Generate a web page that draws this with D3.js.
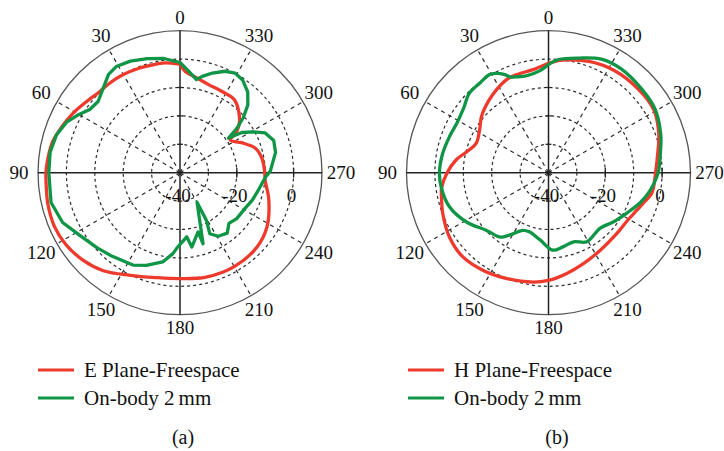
<!DOCTYPE html>
<html lang="en">
  <head>
    <meta charset="UTF-8" />
    <title>Radiation patterns</title>
    <script src="https://d3js.org/d3.v7.min.js" charset="utf-8"></script>
    <style>
      body { margin: 0; background: #fff; }
      text { font-family: "Liberation Serif", "DejaVu Serif", serif; fill: #111; }
    </style>
  </head>
  <body>
    <div id="chart"></div>
    <script>
      // angles in degrees (counter-clockwise from top), gain in dB
      const eFreeAng = [0, 9, 16, 21, 30, 38, 45, 53, 61, 68, 76, 84, 90, 97, 103, 113, 122, 132, 142, 154, 167, 180, 194, 210, 226, 238, 253, 265, 271, 280, 288, 296, 303, 306, 311, 323, 333, 342, 350, 357, 360];
      const eFreeDb = [-1.8, -0.9, -0.8, -0.5, -0.1, 0.1, 0.2, 1.4, 3.1, 4.5, 6.1, 6.8, 7.2, 7.4, 7.8, 8.1, 7.5, 6.0, 3.8, 0.2, -2.1, -2.7, -2.1, -1.8, -2.3, -3.9, -7.3, -9.9, -10.2, -10.7, -12.1, -15.9, -18.9, -15.3, -12.2, -8.0, -7.8, -7.4, -6.1, -4.3, -1.8];

      const eBodyAng = [0, 8, 16, 24, 31, 36, 42, 49, 55, 61, 66, 73, 81, 90, 103, 113, 122, 132, 141, 153, 160, 169, 175, 178, 186, 189, 197, 198, 210, 209, 206, 211, 218, 224, 231, 241, 249, 257, 267, 271, 282, 289, 295, 299, 303, 305.5, 308, 311, 315, 320, 326, 331, 336, 342, 347, 350, 355, 360];
      const eBodyDb = [-1.2, 0.6, 1.8, 3.0, 3.6, 2.8, 0.3, -1.8, -1.2, 1.5, 3.7, 5.5, 6.3, 6.2, 6.6, 4.9, 1.6, -0.6, -2.1, -3.5, -5.3, -8.0, -11.4, -13.7, -17.3, -13.5, -18.2, -13.7, -28, -20.8, -16.1, -13.9, -13.0, -15.2, -14.3, -13.9, -12.8, -11.8, -9.9, -8.2, -5.6, -5.1, -6.9, -10.3, -14.0, -19.0, -14.6, -10.5, -6.2, -2.9, -0.6, 0.1, -0.9, -3.1, -5.2, -6.7, -4.2, -1.2];

      const hFreeAng = [0, 8.5, 18, 24, 32, 40, 50, 58, 68, 76, 82, 90, 98, 104, 111, 123, 134, 146, 158, 172, 180, 190, 201, 214, 228, 239, 247, 252, 259, 270, 278, 290, 301, 313, 327, 340, 353, 360];
      const hFreeDb = [-1.5, -3.3, -3.7, -4.0, -5.5, -7.1, -9.2, -11.4, -12.5, -10.1, -7.2, -4.3, -2.0, -1.2, -0.1, 1.6, 2.3, 1.4, 0.1, -1.1, -2.1, -3.9, -5.7, -7.2, -7.8, -7.5, -6.2, -5.0, -2.9, -2.3, -1.3, 1.3, 3.2, 3.2, 2.8, 1.7, -0.1, -1.5];

      const hBodyAng = [0, 5, 13, 18, 22, 24, 28, 31, 37, 45, 52, 61, 70, 80, 90, 98, 109, 121, 133, 143, 148, 156, 162, 173, 183, 191, 200, 209, 223, 233, 243, 252, 260, 268, 272, 280, 289, 301, 312, 325, 335, 345, 355, 360];
      const hBodyDb = [-1.9, -4.0, -5.0, -4.5, -3.6, -2.2, -0.4, 0.3, -0.2, -0.5, -2.3, -3.3, -2.9, -2.1, -1.6, -1.9, -3.1, -6.3, -10.2, -11.6, -14.1, -17.8, -18.1, -16.1, -12.7, -13.4, -14.1, -12.2, -13.3, -11.3, -8.9, -6.0, -3.7, -1.8, -1.1, 0.0, 1.8, 3.7, 4.1, 4.6, 4.1, 1.8, 0.0, -1.9];

      const ringLevels = [-30, -20, -10, 0];
      const radialLabels = ["-40", "-20", "0"];
      const radialLabelLevels = [-40, -20, 0];
      const angleTicks = [0, 30, 60, 90, 120, 150, 180, 210, 240, 270, 300, 330];

      const panelA = ["E Plane-Freespace", "On-body 2\u2009mm", "(a)"];
      const panelB = ["H Plane-Freespace", "On-body 2\u2009mm", "(b)"];

      const width = 724;
      const height = 451;
      const radius = 142;
      const red = "#ee3a2c";
      const green = "#0f9546";

      const r = d3.scaleLinear().domain([-40, 10]).range([0, radius]);
      const rad = d => (-d * Math.PI) / 180; // ccw from top

      const svg = d3
        .select("#chart")
        .append("svg")
        .attr("width", width)
        .attr("height", height);

      function zip(a, b) {
        return a.map((d, i) => [d, b[i]]);
      }

      function drawPolar(cx, cy, series, labels, legendX, captionX) {
        const g = svg.append("g").attr("transform", "translate(" + cx + "," + cy + ")");

        // dashed rings
        g.selectAll(".ring")
          .data(ringLevels)
          .enter()
          .append("circle")
          .attr("r", d => r(d))
          .attr("fill", "none")
          .attr("stroke", "#2a2a2a")
          .attr("stroke-width", 1.2)
          .attr("stroke-dasharray", "3,3");

        // dashed spokes
        g.selectAll(".spoke")
          .data(angleTicks.filter(d => d % 90 !== 0))
          .enter()
          .append("line")
          .attr("x1", 0)
          .attr("y1", 0)
          .attr("x2", d => radius * Math.sin(rad(d)))
          .attr("y2", d => -radius * Math.cos(rad(d)))
          .attr("stroke", "#2a2a2a")
          .attr("stroke-width", 1.2)
          .attr("stroke-dasharray", "4,4");

        // outer circle
        g.append("circle")
          .attr("r", radius)
          .attr("fill", "none")
          .attr("stroke", "#555")
          .attr("stroke-width", 1.3);

        // main axes
        g.append("line")
          .attr("x1", -radius).attr("x2", radius)
          .attr("y1", 0).attr("y2", 0)
          .attr("stroke", "#222").attr("stroke-width", 1.5);
        g.append("line")
          .attr("y1", -radius).attr("y2", radius)
          .attr("x1", 0).attr("x2", 0)
          .attr("stroke", "#222").attr("stroke-width", 1.5);

        // ticks on the right horizontal axis
        g.selectAll(".rtick")
          .data([-20, 0])
          .enter()
          .append("line")
          .attr("x1", d => r(d)).attr("x2", d => r(d))
          .attr("y1", -5).attr("y2", 5)
          .attr("stroke", "#222").attr("stroke-width", 1.3);
        g.selectAll(".vtick")
          .data([-30, -20, -10])
          .enter()
          .append("line")
          .attr("x1", -3).attr("x2", 3)
          .attr("y1", d => -r(d)).attr("y2", d => -r(d))
          .attr("stroke", "#222").attr("stroke-width", 1.2);

        // radial labels
        g.selectAll(".rlabel")
          .data(radialLabelLevels)
          .enter()
          .append("text")
          .attr("x", d => r(d) - 2)
          .attr("y", 23)
          .attr("text-anchor", "middle")
          .attr("dominant-baseline", "central")
          .attr("font-size", 19)
          .text((d, i) => radialLabels[i]);

        // angle labels
        g.selectAll(".alabel")
          .data(angleTicks)
          .enter()
          .append("text")
          .attr("x", d => (155 + 6 * Math.abs(Math.sin(rad(d)))) * Math.sin(rad(d)))
          .attr("y", d => -(155 + 6 * Math.abs(Math.sin(rad(d)))) * Math.cos(rad(d)))
          .attr("text-anchor", "middle")
          .attr("dominant-baseline", "central")
          .attr("font-size", 19)
          .text(d => d);

        // patterns
        series.forEach(s => {
          const line = d3
            .lineRadial()
            .angle(d => rad(d[0]))
            .radius(d => r(d[1]))
            .curve(s.smooth ? d3.curveCatmullRom.alpha(0.5) : d3.curveLinear);
          g.append("path")
            .datum(zip(s.ang, s.db))
            .attr("d", line)
            .attr("fill", "none")
            .attr("stroke", s.color)
            .attr("stroke-width", 3.3)
            .attr("stroke-linejoin", "round");
        });

        // legend
        const leg = svg.append("g").attr("transform", "translate(" + legendX + ",0)");
        leg.selectAll("line")
          .data([red, green])
          .enter()
          .append("line")
          .attr("x1", 0).attr("x2", 36)
          .attr("y1", (d, i) => 370 + i * 28)
          .attr("y2", (d, i) => 370 + i * 28)
          .attr("stroke", d => d)
          .attr("stroke-width", 3);
        leg.selectAll("text")
          .data(labels.slice(0, 2))
          .enter()
          .append("text")
          .attr("x", 46)
          .attr("y", (d, i) => 370 + i * 28)
          .attr("dominant-baseline", "central")
          .attr("font-size", 21)
          .text(d => d);

        svg.append("text")
          .attr("x", captionX)
          .attr("y", 437)
          .attr("text-anchor", "middle")
          .attr("dominant-baseline", "central")
          .attr("font-size", 20)
          .text(labels[2]);
      }

      drawPolar(
        180, 172.7,
        [
          { ang: eFreeAng, db: eFreeDb, color: red, smooth: true },
          { ang: eBodyAng, db: eBodyDb, color: green, smooth: false }
        ],
        panelA, 38, 183
      );

      drawPolar(
        548.5, 172.7,
        [
          { ang: hFreeAng, db: hFreeDb, color: red, smooth: true },
          { ang: hBodyAng, db: hBodyDb, color: green, smooth: true }
        ],
        panelB, 408, 557
      );
    </script>
  </body>
</html>
